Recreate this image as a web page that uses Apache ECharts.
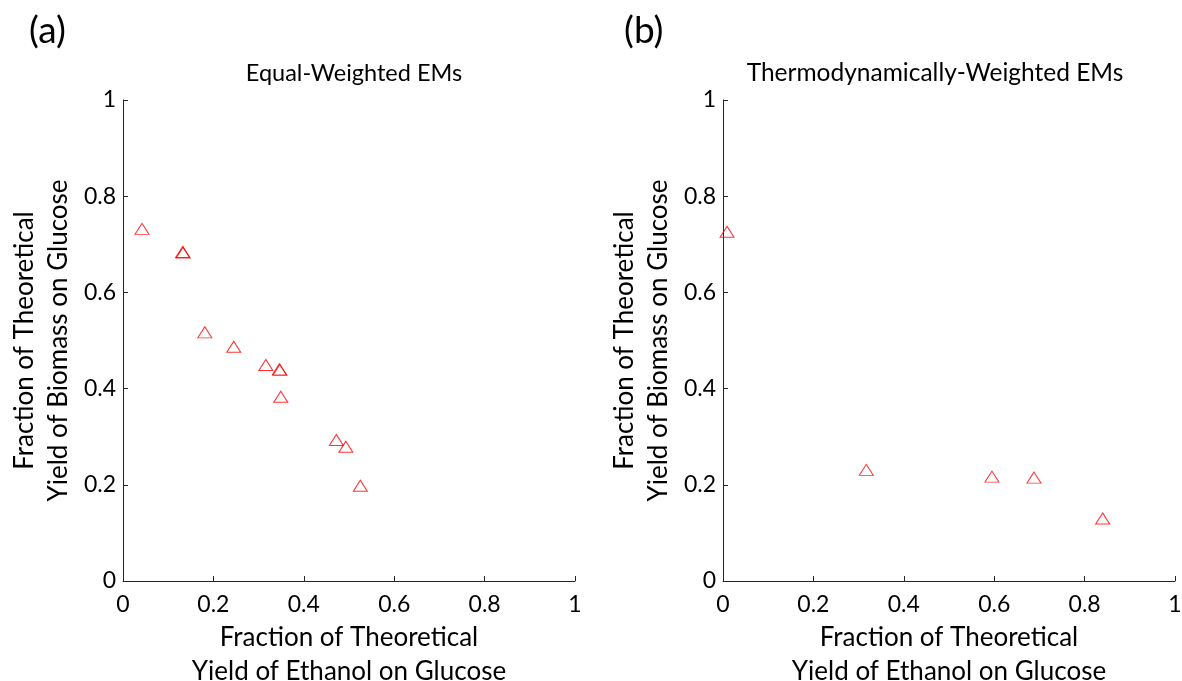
<!DOCTYPE html>
<html>
<head>
<meta charset="utf-8">
<script src="https://cdn.jsdelivr.net/npm/echarts@6/dist/echarts.min.js"></script>
<style>
  html, body { margin: 0; padding: 0; background: #fff; }
  #chart { width: 1182px; height: 681px; }
</style>
</head>
<body>
<div id="chart"></div>
<script>
// 数据：两个面板的点（x = 乙醇产率比例, y = 生物量产率比例）
const equalX = [0.042, 0.132, 0.133, 0.181, 0.245, 0.316, 0.346, 0.347, 0.349, 0.472, 0.493, 0.525];
const equalY = [0.732, 0.684, 0.683, 0.517, 0.487, 0.449, 0.440, 0.439, 0.383, 0.293, 0.279, 0.198];
const thermoX = [0.009, 0.317, 0.595, 0.688, 0.840];
const thermoY = [0.726, 0.231, 0.217, 0.215, 0.130];
const tickLabels = ['0', '0.2', '0.4', '0.6', '0.8', '1'];

const panelTitles = ['Equal-Weighted EMs', 'Thermodynamically-Weighted EMs'];
const xName = 'Fraction of Theoretical\nYield of Ethanol on Glucose';
const yName = 'Fraction of Theoretical\nYield of Biomass on Glucose';

const font = 'Lato, "Open Sans", sans-serif';
const axisColor = '#262626';

function pairs(xs, ys) {
  return xs.map((x, i) => [x, ys[i]]);
}

function fmt(v) {
  const i = Math.round(v * 5);
  return tickLabels[i];
}

function makeAxis(isX, gridIndex) {
  return {
    type: 'value',
    gridIndex: gridIndex,
    min: 0,
    max: 1,
    interval: 0.2,
    name: isX ? xName : yName,
    nameLocation: 'middle',
    nameGap: isX ? 34 : 47,
    nameRotate: isX ? 0 : 90,
    nameTextStyle: {
      fontFamily: font,
      fontSize: 26,
      color: '#000',
      lineHeight: 34
    },
    axisLine: { show: true, lineStyle: { color: axisColor, width: 1 } },
    axisTick: { show: true, inside: true, length: 5, lineStyle: { color: axisColor } },
    axisLabel: {
      formatter: fmt,
      fontFamily: font,
      fontSize: 23,
      color: '#000',
      margin: isX ? 12 : 7
    },
    splitLine: { show: false }
  };
}

const markerStyle = {
  color: 'rgba(0,0,0,0)',
  borderColor: '#ff0000',
  borderWidth: 1
};

let myChart = echarts.init(document.getElementById('chart'));
let option = {
  animation: false,
  backgroundColor: '#fff',
  title: [
    { text: '(a)', left: 24, top: 8, textStyle: { fontFamily: font, fontSize: 37, fontWeight: 'normal', color: '#000' } },
    { text: '(b)', left: 619, top: 8, textStyle: { fontFamily: font, fontSize: 37, fontWeight: 'normal', color: '#000' } },
    { text: panelTitles[0], left: 349, top: 56, textAlign: 'center', textStyle: { fontFamily: font, fontSize: 23.5, fontWeight: 'normal', color: '#000' } },
    { text: panelTitles[1], left: 930, top: 56, textAlign: 'center', textStyle: { fontFamily: font, fontSize: 24.5, fontWeight: 'normal', color: '#000' } }
  ],
  grid: [
    { left: 123, top: 100, width: 452, height: 481, outerBoundsMode: 'none' },
    { left: 723, top: 100, width: 452, height: 481, outerBoundsMode: 'none' }
  ],
  xAxis: [makeAxis(true, 0), makeAxis(true, 1)],
  yAxis: [makeAxis(false, 0), makeAxis(false, 1)],
  series: [
    {
      type: 'scatter',
      xAxisIndex: 0,
      yAxisIndex: 0,
      symbol: 'triangle',
      symbolSize: [14, 11],
      itemStyle: markerStyle,
      data: pairs(equalX, equalY)
    },
    {
      type: 'scatter',
      xAxisIndex: 1,
      yAxisIndex: 1,
      symbol: 'triangle',
      symbolSize: [14, 11],
      itemStyle: markerStyle,
      data: pairs(thermoX, thermoY)
    }
  ]
};
myChart.setOption(option);
</script>
</body>
</html>
